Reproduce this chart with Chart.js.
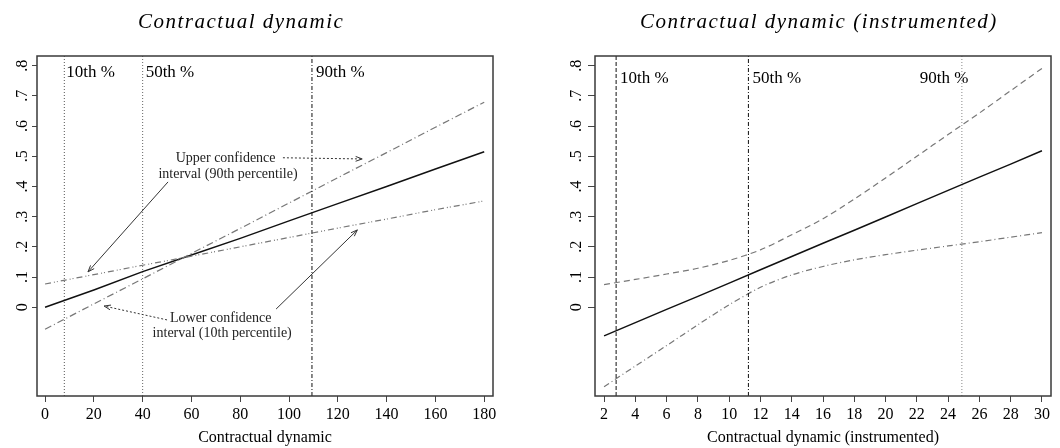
<!DOCTYPE html>
<html>
<head>
<meta charset="utf-8">
<script src="https://cdn.jsdelivr.net/npm/chart.js@4/dist/chart.umd.min.js"></script>
<style>
  body { margin: 0; background: #fff; }
  .panel { position: absolute; top: 0; width: 530px; height: 448px; }
</style>
</head>
<body>
<div class="panel" style="left:0"><canvas id="left-chart" width="530" height="448"></canvas></div>
<div class="panel" style="left:530px"><canvas id="right-chart" width="530" height="448"></canvas></div>
<script>
// shared y axis
const yTicks = [0, 0.1, 0.2, 0.3, 0.4, 0.5, 0.6, 0.7, 0.8];
const yTickLabels = ["0", ".1", ".2", ".3", ".4", ".5", ".6", ".7", ".8"];
const yMin = -0.294;
const yMax = 0.832;

// left panel: contractual dynamic
const leftX = [0, 20, 40, 60, 80, 100, 120, 140, 160, 180];
const leftFit = [0, 0.057, 0.118, 0.173, 0.228, 0.286, 0.343, 0.40, 0.458, 0.515];
const leftUpper = [-0.073, 0.011, 0.094, 0.178, 0.261, 0.345, 0.429, 0.512, 0.596, 0.679];
const leftLower = [0.077, 0.108, 0.139, 0.169, 0.200, 0.231, 0.262, 0.292, 0.323, 0.352];
const leftXTicks = [0, 20, 40, 60, 80, 100, 120, 140, 160, 180];
const leftPct = [7.9, 40, 109.4];

// right panel: contractual dynamic (instrumented)
const rightX = [2, 4, 6, 8, 10, 12, 14, 16, 18, 20, 22, 24, 26, 28, 30];
const rightFit = [-0.095, -0.051, -0.007, 0.036, 0.080, 0.124, 0.168, 0.212, 0.255, 0.299, 0.343, 0.387, 0.431, 0.474, 0.518];
const rightUpper = [0.075, 0.092, 0.110, 0.129, 0.155, 0.190, 0.240, 0.293, 0.358, 0.428, 0.500, 0.572, 0.643, 0.717, 0.791];
const rightLower = [-0.263, -0.195, -0.127, -0.058, 0.008, 0.066, 0.107, 0.135, 0.157, 0.174, 0.189, 0.203, 0.217, 0.232, 0.247];
const rightXTicks = [2, 4, 6, 8, 10, 12, 14, 16, 18, 20, 22, 24, 26, 28, 30];
const rightPct = [2.77, 11.23, 24.88];

const pctLabels = ["10th %", "50th %", "90th %"];

// annotations on the left panel (data units)
const noteText = ["Upper confidence", "interval (90th percentile)", "Lower confidence", "interval (10th percentile)"];
const noteX = [74, 75, 72, 72.6];
const noteY = [0.494, 0.441, -0.036, -0.088];
const arrowFrom = [[97.5, 0.495], [50.4, 0.415], [50, -0.042], [94.7, -0.006]];
const arrowTo = [[130, 0.491], [17.6, 0.117], [24.2, 0.004], [128, 0.256]];
const arrowDash = [[2, 2], [], [2, 2], []];

const serif = '"Liberation Serif", "Times New Roman", serif';

const pts = (xs, ys) => xs.map((v, i) => ({ x: v, y: ys[i] }));

const drawArrow = (ctx, x1, y1, x2, y2, dash) => {
  ctx.save();
  ctx.strokeStyle = "#333";
  ctx.lineWidth = 1;
  ctx.setLineDash(dash);
  ctx.beginPath();
  ctx.moveTo(x1, y1);
  ctx.lineTo(x2, y2);
  ctx.stroke();
  ctx.setLineDash([]);
  const a = Math.atan2(y2 - y1, x2 - x1);
  const h = 7;
  ctx.beginPath();
  ctx.moveTo(x2 - h * Math.cos(a - 0.35), y2 - h * Math.sin(a - 0.35));
  ctx.lineTo(x2, y2);
  ctx.lineTo(x2 - h * Math.cos(a + 0.35), y2 - h * Math.sin(a + 0.35));
  ctx.stroke();
  ctx.restore();
};

const makeDecor = (cfg) => ({
  id: "decor",
  afterDatasetsDraw(chart) {
    const { ctx, chartArea: a } = chart;
    ctx.save();
    ctx.strokeStyle = "#3a3a3a";
    ctx.lineWidth = 1.5;
    ctx.strokeRect(a.left, a.top, a.right - a.left, a.bottom - a.top);
    ctx.restore();
  },
  afterDraw(chart) {
    const { ctx } = chart;
    const x = chart.scales.x;
    const y = chart.scales.y;
    ctx.save();
    ctx.fillStyle = "#000";
    ctx.textBaseline = "middle";
    ctx.textAlign = "left";
    ctx.font = "italic 21px " + serif;
    ctx.letterSpacing = "1.5px";
    ctx.fillText(cfg.title, cfg.titleLeft, 22);
    ctx.letterSpacing = "0px";

    ctx.font = "17px " + serif;
    cfg.pct.forEach((p, i) => {
      ctx.fillText(pctLabels[i], x.getPixelForValue(p) + cfg.pctDx[i], y.getPixelForValue(cfg.pctLabelY));
    });

    if (cfg.notes) {
      ctx.font = "14px " + serif;
      ctx.textAlign = "center";
      ctx.fillStyle = "#222";
      noteText.forEach((t, i) => {
        ctx.fillText(t, x.getPixelForValue(noteX[i]), y.getPixelForValue(noteY[i]));
      });
      arrowFrom.forEach((f, i) => {
        drawArrow(ctx,
          x.getPixelForValue(f[0]), y.getPixelForValue(f[1]),
          x.getPixelForValue(arrowTo[i][0]), y.getPixelForValue(arrowTo[i][1]),
          arrowDash[i]);
      });
    }
    ctx.restore();
  },
});

const vline = (p, color, dash) => ({
  data: [{ x: p, y: yMin }, { x: p, y: yMax }],
  borderColor: color,
  borderWidth: 1,
  borderDash: dash,
  pointRadius: 0,
});

const curve = (xs, ys, color, dash, width, tension) => ({
  data: pts(xs, ys),
  borderColor: color,
  borderWidth: width,
  borderDash: dash,
  pointRadius: 0,
  tension: tension,
});

const makeChart = (id, cfg) => new Chart(document.getElementById(id), {
  type: "line",
  data: { datasets: cfg.datasets },
  options: {
    responsive: false,
    animation: false,
    layout: { padding: { top: 56, right: cfg.padRight, bottom: 0, left: 0 } },
    plugins: { legend: { display: false }, tooltip: { enabled: false } },
    scales: {
      x: {
        type: "linear",
        min: cfg.xMin,
        max: cfg.xMax,
        afterBuildTicks: (s) => { s.ticks = cfg.xTicks.map((v) => ({ value: v })); },
        afterFit: (s) => { s.height = 52; },
        ticks: {
          autoSkip: false,
          maxRotation: 0,
          padding: 3,
          color: "#000",
          font: { family: serif, size: 16 },
          callback: (v) => String(v),
        },
        grid: { drawOnChartArea: false, drawTicks: true, tickLength: 6, color: "#444" },
        border: { display: false },
        title: {
          display: true,
          text: cfg.xTitle,
          color: "#000",
          font: { family: serif, size: 16 },
          padding: { top: 0, bottom: 1 },
        },
      },
      y: {
        type: "linear",
        min: yMin,
        max: yMax,
        afterBuildTicks: (s) => { s.ticks = yTicks.map((v) => ({ value: v })); },
        afterFit: (s) => { s.width = cfg.yWidth; },
        ticks: {
          autoSkip: false,
          minRotation: 90,
          maxRotation: 90,
          crossAlign: "center",
          padding: cfg.yPad,
          color: "#000",
          font: { family: serif, size: 16 },
          callback: (v, i) => yTickLabels[i],
        },
        grid: { drawOnChartArea: false, drawTicks: true, tickLength: cfg.yTick, color: "#444" },
        border: { display: false },
      },
    },
  },
  plugins: [makeDecor(cfg)],
});

makeChart("left-chart", {
  xMin: -3.3, xMax: 183.6, xTicks: leftXTicks, xTitle: "Contractual dynamic",
  padRight: 37, yWidth: 37, yPad: 3, yTick: 5,
  title: "Contractual dynamic", titleLeft: 138,
  pct: leftPct, pctDx: [2, 3, 4], pctLabelY: 0.776, notes: true,
  datasets: [
    vline(leftPct[0], "#555", [1, 2]),
    vline(leftPct[1], "#666", [1, 2]),
    vline(leftPct[2], "#111", [4, 2, 1, 2]),
    curve(leftX, leftUpper, "#777", [7, 3, 1, 3], 1.2, 0),
    curve(leftX, leftLower, "#777", [6, 3, 1, 2, 1, 3], 1.2, 0),
    curve(leftX, leftFit, "#111", [], 1.5, 0),
  ],
});

makeChart("right-chart", {
  xMin: 1.42, xMax: 30.58, xTicks: rightXTicks, xTitle: "Contractual dynamic (instrumented)",
  padRight: 9, yWidth: 65, yPad: 5, yTick: 7,
  title: "Contractual dynamic (instrumented)", titleLeft: 110,
  pct: rightPct, pctDx: [4, 4, -42], pctLabelY: 0.759, notes: false,
  datasets: [
    vline(rightPct[0], "#111", [4, 2]),
    vline(rightPct[1], "#111", [4, 2, 1, 2]),
    vline(rightPct[2], "#888", [1, 2]),
    curve(rightX, rightUpper, "#777", [6, 4], 1.2, 0.3),
    curve(rightX, rightLower, "#777", [6, 3, 1, 3], 1.2, 0.3),
    curve(rightX, rightFit, "#111", [], 1.5, 0),
  ],
});
</script>
</body>
</html>
